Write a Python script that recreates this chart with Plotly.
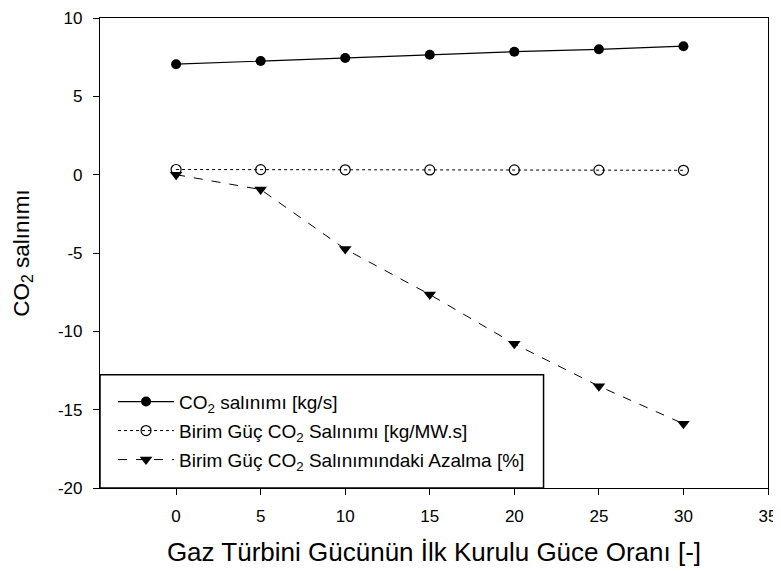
import plotly.graph_objects as go

x_vals = [0, 5, 10, 15, 20, 25, 30]
co2_emission = [7.05, 7.25, 7.45, 7.65, 7.85, 8.0, 8.2]
unit_co2 = [0.33, 0.32, 0.31, 0.30, 0.30, 0.29, 0.28]
unit_co2_reduction = [0.0, -0.95, -4.75, -7.65, -10.8, -13.5, -15.9]

names = [
    "CO<sub>2</sub> salınımı [kg/s]",
    "Birim Güç CO<sub>2</sub> Salınımı [kg/MW.s]",
    "Birim Güç CO<sub>2</sub> Salınımındaki Azalma [%]",
]
x_ticks = [0, 5, 10, 15, 20, 25, 30, 35]
x_tick_labels = ["0", "5", "10", "15", "20", "25", "30", "35"]
y_ticks = [-20, -15, -10, -5, 0, 5, 10]
y_tick_labels = ["-20", "-15", "-10", "-5", "0", "5", "10"]

FONT = "Arial, Liberation Sans, sans-serif"

fig = go.Figure()
fig.add_trace(go.Scatter(
    x=x_vals, y=co2_emission, name=names[0], mode="lines+markers",
    line=dict(color="black", width=1.2, dash="solid"),
    marker=dict(symbol="circle", size=10, color="black"),
    legendgroup="a",
))
fig.add_trace(go.Scatter(
    x=x_vals, y=unit_co2, name=names[1], mode="lines+markers",
    line=dict(color="black", width=1, dash="dot"),
    marker=dict(symbol="circle-open", size=10, color="black", line=dict(width=1.2)),
    legendgroup="b",
))
fig.add_trace(go.Scatter(
    x=x_vals, y=unit_co2_reduction, name=names[2], mode="lines+markers",
    line=dict(color="black", width=1, dash="dash"),
    marker=dict(symbol="triangle-down", size=11, color="black"),
    legendgroup="c",
))

axis_common = dict(
    showline=True, linecolor="black", linewidth=1.2, mirror=True,
    ticks="outside", ticklen=6, tickcolor="black", tickwidth=1,
    showgrid=False, zeroline=False, automargin=False,
    ticklabeloverflow="allow",
    tickfont=dict(family=FONT, size=17, color="black"),
)

fig.update_layout(
    width=773, height=563,
    margin=dict(l=92, r=13, t=10, b=83),
    paper_bgcolor="white", plot_bgcolor="white",
    font=dict(family=FONT, color="black"),
    showlegend=True,
    legend=dict(
        x=0.0195, y=0.224, xanchor="left", yanchor="top",
        bgcolor="rgba(0,0,0,0)", borderwidth=0,
        font=dict(family=FONT, size=19, color="black"),
        traceorder="grouped", tracegroupgap=1.3,
        itemwidth=56,
    ),
    xaxis=dict(
        range=[-4.5, 35], tickvals=x_ticks, ticktext=x_tick_labels,
        ticklabelstandoff=6,
        title=dict(text="Gaz Türbini Gücünün İlk Kurulu Güce Oranı [-]",
                   font=dict(family=FONT, size=26, color="black"), standoff=18),
        **axis_common,
    ),
    yaxis=dict(
        range=[-20, 10], tickvals=y_ticks, ticktext=y_tick_labels,
        ticklabelstandoff=7,
        title=dict(text="CO<sub>2</sub> salınımı",
                   font=dict(family=FONT, size=22.5, color="black"), standoff=22),
        **axis_common,
    ),
    shapes=[dict(
        type="rect", xref="paper", yref="paper",
        x0=0, x1=0.664, y0=0, y1=0.241,
        line=dict(color="black", width=1.5), fillcolor="rgba(0,0,0,0)", layer="above",
    )],
)

fig.write_html("out.html")
